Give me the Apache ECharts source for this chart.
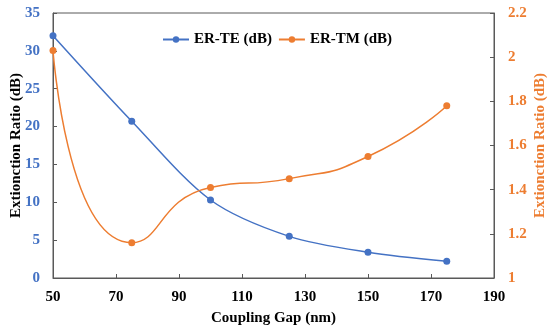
<!DOCTYPE html>
<html><head><meta charset="utf-8">
<script src="https://cdn.jsdelivr.net/npm/echarts@6/dist/echarts.min.js"></script>
<style>html,body{margin:0;padding:0;background:#fff}#c{width:550px;height:330px}</style>
</head><body><div id="c"></div>
<script>
const gaps = [50, 75, 100, 125, 150, 175];
const erTE = [32, 20.7, 10.3, 5.5, 3.4, 2.2];
const erTM = [2.03, 1.16, 1.41, 1.45, 1.55, 1.78];
const blue = '#4472C4', orange = '#ED7D31';
const font = '"Liberation Serif", "Times New Roman", serif';
const chart = echarts.init(document.getElementById('c'));
chart.setOption({
  animation: false,
  grid: {left: 53, right: 56, top: 13, bottom: 52, containLabel: false, outerBoundsMode: 'none',
         show: true, borderColor: '#595959', borderWidth: 1},
  legend: {
    top: 27, left: 157, itemGap: 6, itemWidth: 26, itemHeight: 8,
    textStyle: {fontFamily: font, fontWeight: 'bold', fontSize: 15, color: '#000'},
    data: ['ER-TE (dB)', 'ER-TM (dB)']
  },
  xAxis: {
    type: 'value', min: 50, max: 190, interval: 20,
    name: 'Coupling Gap (nm)', nameLocation: 'middle', nameGap: 33, nameMoveOverlap: false,
    nameTextStyle: {fontFamily: font, fontWeight: 'bold', fontSize: 15, color: '#000'},
    axisLine: {lineStyle: {color: '#595959'}},
    axisTick: {inside: true, length: 4, lineStyle: {color: '#595959'}},
    axisLabel: {fontFamily: font, fontWeight: 'bold', fontSize: 15, color: '#000', margin: 12},
    splitLine: {show: false}
  },
  yAxis: [{
    type: 'value', min: 0, max: 35, interval: 5, position: 'left',
    name: 'Extionction Ratio (dB)', nameLocation: 'middle', nameGap: 29, nameMoveOverlap: false,
    nameTextStyle: {fontFamily: font, fontWeight: 'bold', fontSize: 15, color: '#000'},
    axisLine: {show: true, lineStyle: {color: '#595959'}},
    axisTick: {show: true, inside: true, length: 4, lineStyle: {color: '#595959'}},
    axisLabel: {fontFamily: font, fontWeight: 'bold', fontSize: 15, color: blue, margin: 13},
    splitLine: {show: false}
  }, {
    type: 'value', min: 1, max: 2.2, interval: 0.2, position: 'right',
    name: 'Extionction Ratio (dB)', nameLocation: 'middle', nameGap: 39, nameRotate: 90, nameMoveOverlap: false,
    nameTextStyle: {fontFamily: font, fontWeight: 'bold', fontSize: 15, color: orange},
    axisLine: {show: true, lineStyle: {color: '#595959'}},
    axisTick: {show: true, inside: true, length: 4, lineStyle: {color: '#595959'}},
    axisLabel: {fontFamily: font, fontWeight: 'bold', fontSize: 15, color: orange, margin: 14,
      formatter: v => String(Math.round(v * 10) / 10)},
    splitLine: {show: false}
  }],
  series: [{
    name: 'ER-TE (dB)', type: 'line', yAxisIndex: 0, smooth: 0.3,
    data: gaps.map((g, i) => [g, erTE[i]]),
    symbol: 'circle', symbolSize: 7,
    itemStyle: {color: blue}, lineStyle: {color: blue, width: 1.5}
  }, {
    name: 'ER-TM (dB)', type: 'line', yAxisIndex: 1, smooth: 0.6,
    data: gaps.map((g, i) => [g, erTM[i]]),
    symbol: 'circle', symbolSize: 7,
    itemStyle: {color: orange}, lineStyle: {color: orange, width: 1.5}
  }]
});
</script></body></html>
